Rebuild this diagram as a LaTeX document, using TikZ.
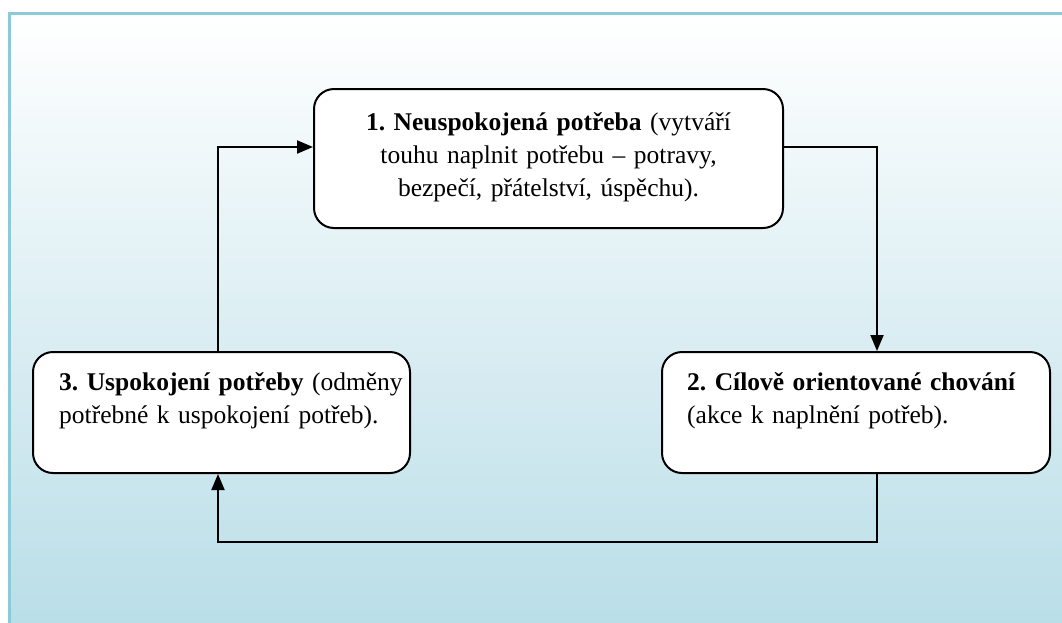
\documentclass[tikz,border=0pt]{standalone}
\usepackage{fontspec}
\setmainfont{Liberation Serif}
\usetikzlibrary{arrows.meta,calc}
\definecolor{bgblue}{RGB}{184,221,231}
\definecolor{framecol}{RGB}{140,202,216}
\tikzset{
  box/.style={draw=black, line width=2pt, rounded corners=20pt, fill=white, inner sep=0pt},
  txt/.style={font=\fontsize{25.5}{33}\selectfont\frenchspacing, inner sep=0pt},
  conn/.style={line width=2pt, -{Triangle[length=16pt,width=13pt]}},
}
\begin{document}
\begin{tikzpicture}[x=1pt,y=-1pt]
\useasboundingbox (0,0) rectangle (1062,622);
\fill[white] (0,0) rectangle (1062,622);
\shade[top color=white, bottom color=bgblue] (9.5,13) rectangle (1080,640);
\draw[framecol, line width=3pt] (9.5,660) -- (9.5,13) -- (1080,13);
% boxes
\node[box, minimum width=469pt, minimum height=139pt] (b1) at (548.5,158.5) {};
\node[box, minimum width=388pt, minimum height=121pt] (b2) at (856,412.5) {};
\node[box, minimum width=377pt, minimum height=121pt] (b3) at (221.5,412.5) {};
% texts
\node[txt, text width=460pt, align=center, anchor=base] (t1) at (548.5,130) {\textbf{1. Neuspokojená potřeba} (vytváří\\touhu naplnit potřebu – potravy,\\bezpečí, přátelství, úspěchu).};
\node[txt, text width=380pt, align=left, anchor=base west] (t2) at (687,390) {\textbf{2. Cílově orientované chování}\\(akce k naplnění potřeb).};
\node[txt, text width=380pt, align=left, anchor=base west] (t3) at (59,390) {\textbf{3. Uspokojení potřeby} (odměny\\potřebné k uspokojení potřeb).};
% connectors
\coordinate (c) at (877,542);
\draw[conn] ([xshift=-3.5pt]b3.north) |- ([yshift=11.5pt]b1.west);
\draw[conn] ([yshift=11.5pt]b1.east) -| ([xshift=21pt]b2.north);
\draw[conn] ([xshift=21pt]b2.south) -- (c) -| ([xshift=-3.5pt]b3.south);
\end{tikzpicture}
\end{document}
